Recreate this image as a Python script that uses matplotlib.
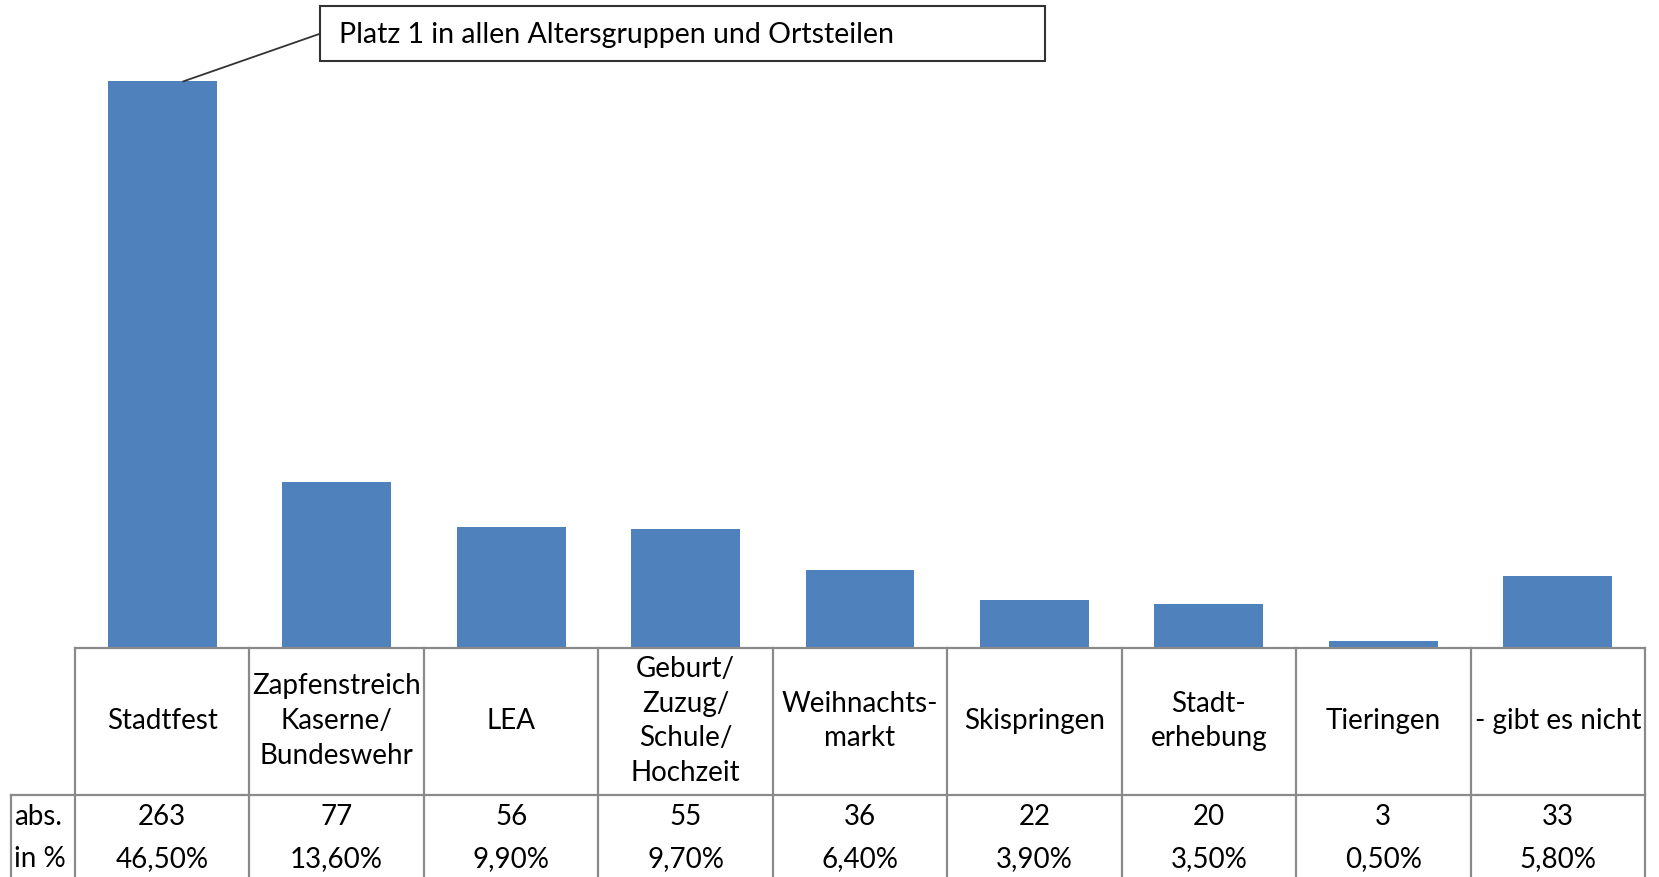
import matplotlib
matplotlib.use("Agg")
import matplotlib.pyplot as plt
from matplotlib.patches import Rectangle

categories = ["Stadtfest", "Zapfenstreich\nKaserne/\nBundeswehr", "LEA",
              "Geburt/\nZuzug/\nSchule/\nHochzeit", "Weihnachts-\nmarkt",
              "Skispringen", "Stadt-\nerhebung", "Tieringen", "- gibt es nicht"]
abs_values = [263, 77, 56, 55, 36, 22, 20, 3, 33]
pct_labels = ["46,50%", "13,60%", "9,90%", "9,70%", "6,40%", "3,90%", "3,50%", "0,50%", "5,80%"]
row_labels = ["abs.", "in %"]
annotation = "Platz 1 in allen Altersgruppen und Ortsteilen"

plt.rcParams['font.family'] = ['Lato', 'DejaVu Sans']

W, H = 1659, 877
fig = plt.figure(figsize=(W / 100, H / 100), dpi=100)

x0, x1 = 75, 1645
base = 647.5
ax = fig.add_axes([x0 / W, (H - base) / H, (x1 - x0) / W, (base - 1.8) / H])
n = len(categories)
xs = list(range(n))
ax.bar(xs, abs_values, width=0.624, color="#4F81BD", zorder=2)
ax.set_xlim(-0.5, n - 0.5)
ax.set_ylim(0, 300)
ax.axis("off")

# table axes
tab = fig.add_axes([x0 / W, 0, (x1 - x0) / W, (H - base) / H], sharex=ax)
tab.set_ylim(H, base)
tab.axis("off")
gc = "#8a8a8a"
lw = 1.6
left_ext = -0.5 - (x0 - 10.6) / ((x1 - x0) / n)
row_sep = 794.6
tab.plot([-0.5, n - 0.5], [base, base], color=gc, lw=lw, clip_on=False)
tab.plot([left_ext, n - 0.5], [row_sep, row_sep], color=gc, lw=lw, clip_on=False)
for k in range(n + 1):
    tab.plot([k - 0.5, k - 0.5], [base, H + 5], color=gc, lw=lw, clip_on=False)
tab.plot([left_ext, left_ext], [row_sep, H + 5], color=gc, lw=lw, clip_on=False)

fs = 20
for i, c in enumerate(categories):
    tab.text(i, 721, c, ha="center", va="center", fontsize=fs, linespacing=1.42)
    tab.text(i, 817, str(abs_values[i]), ha="center", va="center", fontsize=fs)
    tab.text(i, 859, pct_labels[i], ha="center", va="center", fontsize=fs)
tab.text(left_ext + 0.02, 817, row_labels[0], ha="left", va="center", fontsize=fs, clip_on=False)
tab.text(left_ext + 0.02, 859, row_labels[1], ha="left", va="center", fontsize=fs, clip_on=False)

# annotation box
bx0, bx1, by0, by1 = 319.5, 1045, 6.3, 61.4
fig.patches.append(Rectangle((bx0 / W, 1 - by1 / H), (bx1 - bx0) / W, (by1 - by0) / H,
                             transform=fig.transFigure, fill=False, edgecolor="#333333", lw=1.5))
fig.text(338.6 / W, 1 - 34.5 / H, annotation, ha="left", va="center", fontsize=fs + 0.5)
ax.annotate("", xy=(0.12, abs_values[0]), xycoords="data",
            xytext=(bx0 / W, 1 - 33.9 / H), textcoords="figure fraction",
            arrowprops=dict(arrowstyle="-", color="#333333", lw=1.3, shrinkA=0, shrinkB=0))

fig.savefig("out.png", dpi=100)
